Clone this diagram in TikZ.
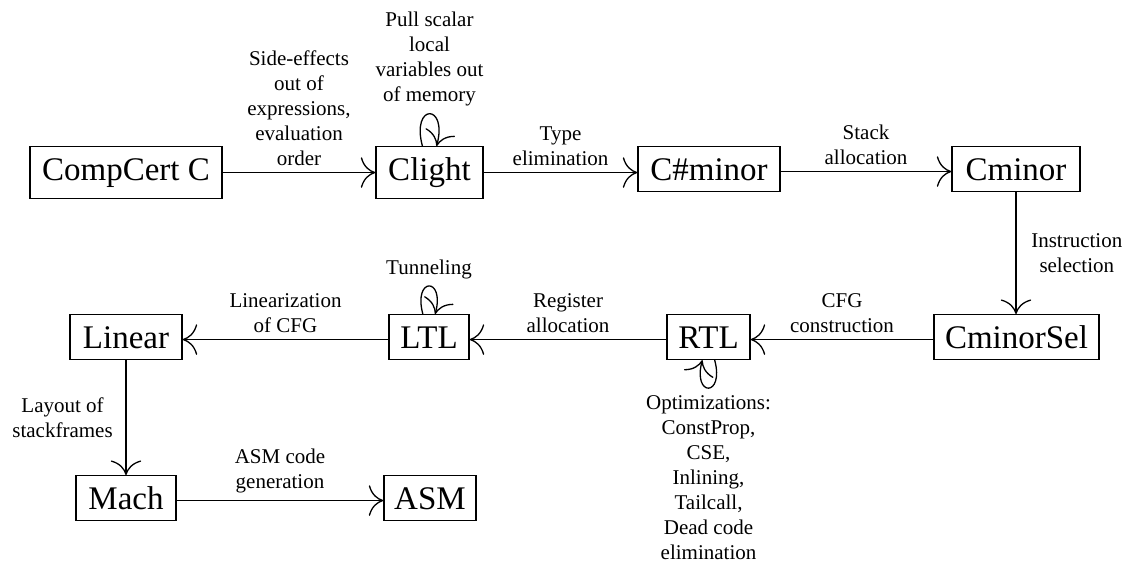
\documentclass[tikz,border=0pt]{standalone}
\usepackage{fontspec}
\setmainfont{Liberation Serif}
\usetikzlibrary{arrows.meta}
\begin{document}
\begin{tikzpicture}[x=0.5pt,y=-0.5pt,
  box/.style={draw, line width=0.65pt, font=\fontsize{16.5}{19}\selectfont,
    inner xsep=1pt, inner ysep=5.6pt, text height=11.2pt, text depth=0pt, anchor=north},
  desc/.style={text depth=3.5pt},
  lbl/.style={font=\fontsize{10.5}{12.5}\selectfont, align=center},
  arr/.style={line width=0.65pt, -{To[scale=2.4]}},
]
\useasboundingbox (0,0) rectangle (1139,565);

% nodes
\node[box, desc, minimum width=96pt]   (cc)   at (126,146)    {CompCert C};
\node[box, desc, minimum width=53.5pt] (cl)   at (429.5,146)  {Clight};
\node[box, minimum width=71pt]         (csm)  at (709,146)    {C\#minor};
\node[box, minimum width=64pt]         (cm)   at (1016,146)   {Cminor};
\node[box, minimum width=82.5pt]       (sel)  at (1016.5,314) {CminorSel};
\node[box, minimum width=41.5pt]       (rtl)  at (708.5,314)  {RTL};
\node[box, minimum width=40pt]         (ltl)  at (429,314)    {LTL};
\node[box, minimum width=56pt]         (lin)  at (126,314)    {Linear};
\node[box, minimum width=50pt]         (mach) at (126,475)    {Mach};
\node[box, minimum width=46pt]         (asm)  at (430,475)    {ASM};

% row 1
\draw[arr] (cc) -- node[lbl, above] {Side-effects\\out of\\expressions,\\evaluation\\order} (cl);
\draw[arr] (cl) -- node[lbl, above] {Type\\elimination} (cl -| csm.west);
\draw[arr] ([yshift=-1.25pt]csm.east) -- node[lbl, above] {Stack\\allocation} ([yshift=-1.25pt]cm.west);
\draw[arr] (cm.south) -- node[lbl, right, xshift=4pt] {Instruction\\selection} (cm.south |- sel.north);

% row 2
\draw[arr] ([yshift=-1.25pt]sel.west) -- node[lbl, above] {CFG\\construction} ([yshift=-1.25pt]rtl.east);
\draw[arr] ([yshift=-1.25pt]rtl.west) -- node[lbl, above] {Register\\allocation} ([yshift=-1.25pt]ltl.east);
\draw[arr] ([yshift=-1.25pt]ltl.west) -- node[lbl, above] {Linearization\\of CFG} ([yshift=-1.25pt]lin.east);
\draw[arr] (lin.south) -- node[lbl, left, xshift=-3pt] {Layout of\\stackframes} (lin.south |- mach.north);

% row 3
\draw[arr] ([yshift=-1.25pt]mach.east) -- node[lbl, above] {ASM code\\generation} ([yshift=-1.25pt]asm.west);

% loops
\draw[arr] (cl) to[loop above] node[lbl, above] {Pull scalar\\local\\variables out\\of memory} ();
\draw[arr] (ltl) to[loop above] node[lbl, above] {Tunneling} ();
\draw[arr] (rtl) to[loop below] node[lbl, below] {Optimizations:\\ConstProp,\\CSE,\\Inlining,\\Tailcall,\\Dead code\\elimination} ();
\end{tikzpicture}
\end{document}
